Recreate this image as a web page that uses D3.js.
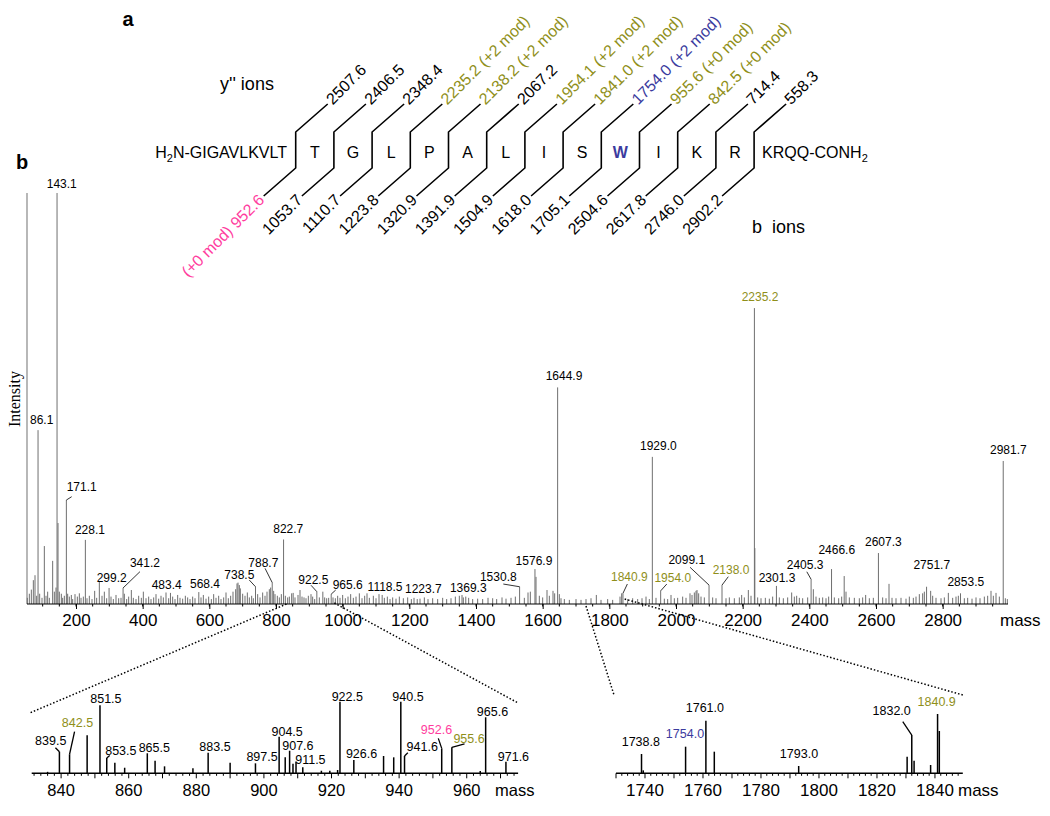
<!DOCTYPE html>
<html><head><meta charset="utf-8">
<script src="https://cdn.jsdelivr.net/npm/d3@7"></script>
<style>body{margin:0;background:#fff;} svg{display:block;font-family:Arial,"Liberation Sans",Helvetica,sans-serif;}</style>
</head><body><svg id="c" width="1050" height="816"></svg>
<script>
// ---------------- DATA ----------------
const residues = ["T","G","L","P","A","L","I","S","W","I","K","R"];
const yIonLabels = ["2507.6","2406.5","2348.4","2235.2 (+2 mod)","2138.2 (+2 mod)","2067.2","1954.1 (+2 mod)","1841.0 (+2 mod)","1754.0 (+2 mod)","955.6 (+0 mod)","842.5 (+0 mod)","714.4","558.3"];
const yIonKind   = ["n","n","n","o","o","n","o","o","b","o","o","n","n"];
const bIonLabels = ["(+0 mod) 952.6","1053.7","1110.7","1223.8","1320.9","1391.9","1504.9","1618.0","1705.1","2504.6","2617.8","2746.0","2902.2"];
const bIonKind   = ["p","n","n","n","n","n","n","n","n","n","n","n","n"];

const mainTicks = [200,400,600,800,1000,1200,1400,1600,1800,2000,2200,2400,2600,2800];
// labelled peaks of the full spectrum [mass, relative intensity %]
const mainLabeled = [[143.1,100],[86.1,42.3],[171.1,25.3],[228.1,15.6],[299.2,3.9],[341.2,3.9],[483.4,2.7],[568.4,2.9],[738.5,4.2],[788.7,5.2],[822.7,15.7],[922.5,3.0],[965.6,2.4],[1118.5,2.2],[1223.7,1.2],[1369.3,1.8],[1530.8,4.2],[1576.9,8.5],[1644.9,52.7],[1840.9,2.6],[1929.0,35.8],[1954.0,3.2],[2099.1,4.6],[2138.0,4.6],[2235.2,72],[2301.3,4.4],[2405.3,6.0],[2466.6,8.5],[2607.3,12.4],[2751.7,4.2],[2853.5,2.6],[2981.7,34.8]];
const mainLabelKind = {"1840.9":"o","1954.0":"o","2138.0":"o","2235.2":"o"};
// unlabelled peaks of the full spectrum [mass, relative intensity %]
const mainOther = [[54,1.5],[60,2.5],[66,3.5],[72,5.8],[77,7],[82,2],[91,2.5],[98,1.5],[105,14.1],[110,2],[115,3],[120,1.5],[130,10.5],[135,3],[140,4],[146,19.7],[150,3],[156,2.5],[160,1.5],[165,2],[175,2.5],[180,1.8],[186,2.2],[190,1.2],[197,2.4],[204,1.8],[210,2.6],[215,1.5],[222,1.8],[233,1.4],[240,2],[248,1.2],[256,3.2],[262,1.5],[270,5.4],[278,2],[285,3],[292,1.4],[305,1.8],[312,1.2],[320,2.2],[328,1.4],[335,1.5],[345,2.5],[352,1.2],[358,1.8],[366,3.4],[372,1.5],[380,1.2],[388,2],[396,1.5],[402,3],[410,1.4],[418,1.8],[425,1.2],[433,1.6],[440,2.4],[448,1.3],[455,2],[462,1.6],[470,2.8],[478,1.4],[490,1.8],[497,1.2],[505,2.2],[512,1.5],[520,1.3],[528,2],[535,1.6],[542,1.2],[550,1.8],[557,1.4],[575,1.6],[582,2.2],[590,1.3],[598,1.8],[606,1.2],[613,2.4],[620,1.5],[628,2],[635,1.2],[643,1.6],[650,2.8],[657,1.4],[664,2],[671,3],[679,3.6],[683,5],[686,5.2],[690,4.6],[693,3.8],[700,2.5],[707,2],[714,2.8],[720,1.6],[727,2],[732,1.4],[745,2.4],[752,1.6],[760,2.8],[767,2],[773,3],[780,3.6],[784,4],[793,3.2],[797,2.4],[804,2],[810,1.6],[816,2.4],[828,2],[835,1.6],[840,1.8],[847,2.6],[851.5,2.7],[857,1.6],[866,2.2],[872,3.4],[878,1.8],[884,1.6],[890,1.4],[897,2],[905,2.4],[910,1.8],[916,1.2],[930,1.6],[940.5,3],[946,1.6],[952,1.4],[958,1.5],[971,1.6],[978,1.4],[985,2],[992,1.5],[1000,2.2],[1008,1.4],[1016,1.8],[1024,2.4],[1032,1.5],[1040,1.8],[1050,2.6],[1058,1.4],[1066,2],[1073,2.6],[1080,1.5],[1092,2],[1100,1.4],[1109,2.4],[1125,1.5],[1134,1.8],[1142,1.2],[1150,1.6],[1160,1.3],[1170,1.8],[1182,1.4],[1195,1.6],[1206,1.2],[1214,1.5],[1232,1.3],[1245,1.6],[1256,1.2],[1270,1.4],[1285,1.2],[1300,1.5],[1312,1.2],[1325,1.4],[1338,1.8],[1350,2],[1358,2.2],[1362,1.6],[1378,1.5],[1390,1.2],[1405,1.3],[1420,1.2],[1436,1.5],[1450,1.4],[1462,1.2],[1478,1.6],[1490,1.3],[1505,1.5],[1518,1.8],[1545,1.5],[1556,2.8],[1563,3],[1580,6.6],[1590,2],[1600,1.6],[1613,3.4],[1620,2],[1631,3.2],[1636,2.6],[1650,2.4],[1655,1.4],[1665,1.2],[1680,1],[1700,1.2],[1715,1],[1730,1.2],[1745,1.4],[1761,2.2],[1775,1],[1795,1.2],[1810,1],[1832,1.8],[1837,2.6],[1855,1.2],[1870,1.4],[1885,1.2],[1898,1.4],[1910,1.8],[1920,1.2],[1940,1.5],[1965,1.3],[1975,1.2],[1985,2.2],[1995,1.4],[2005,1.5],[2020,1.8],[2030,1.5],[2042,2.6],[2048,2.2],[2055,2.8],[2060,3.2],[2063,3.4],[2068,2.6],[2075,1.8],[2085,1.6],[2110,1.6],[2120,1.4],[2150,1.4],[2160,1.6],[2175,1.4],[2190,1.6],[2197,2.2],[2205,1.6],[2217,3.4],[2225,2],[2236.5,13.6],[2245,1.6],[2255,1.4],[2268,1.5],[2280,1.3],[2290,1.8],[2310,1.6],[2322,1.4],[2335,1.6],[2347,2.8],[2355,1.8],[2362,2],[2370,1.5],[2380,1.4],[2395,1.6],[2412,3.6],[2420,1.8],[2430,1.5],[2440,1.6],[2450,1.4],[2458,1.8],[2475,1.6],[2488,1.4],[2497,1.8],[2504.6,6.8],[2510,3],[2520,1.6],[2535,1.5],[2550,1.4],[2560,1.6],[2569,2.2],[2580,1.4],[2592,1.5],[2620,1.6],[2630,1.4],[2639,4.9],[2648,1.5],[2660,1.4],[2675,1.5],[2690,1.3],[2700,1.8],[2712,1.5],[2720,1.8],[2730,2.4],[2740,2.6],[2745,3],[2764,3.2],[2770,2],[2780,1.5],[2795,1.4],[2805,1.6],[2817,2.7],[2830,1.5],[2840,1.8],[2847,2],[2865,1.4],[2875,1.5],[2888,1.3],[2900,1.6],[2912,1.4],[2925,1.8],[2935,2],[2945,3.2],[2952,2],[2960,2.7],[2970,1.8],[2988,1.4],[2994,1.2]];

// inset 1 (m/z 830-975)
const inset1Ticks = [840,860,880,900,920,940,960];
const inset1Peaks = [[836,2],[839.5,29.5],[842.5,26],[847.7,52],[851.5,93],[853.5,21],[855.9,14.5],[858.8,7.6],[865.5,27.3],[867.8,17.2],[870.6,9.5],[879,6.8],[883.5,28],[890,14.5],[897.5,13.6],[904.5,50],[906.3,21.8],[907.6,30.8],[908.6,13],[909.5,16],[911.5,8.2],[917,3.5],[919.5,3.5],[921.8,4.5],[922.5,97.7],[926.6,18],[935.4,23.6],[938.4,21.8],[940.5,97.7],[941.6,23.6],[952.6,34],[955.6,35.5],[964,3],[965.6,76.4],[971.6,15.8]];
const inset1Labels = ["839.5","842.5","851.5","853.5","865.5","883.5","897.5","904.5","907.6","911.5","922.5","926.6","940.5","941.6","952.6","955.6","965.6","971.6"];
const inset1Kind = {"842.5":"o","955.6":"o","952.6":"p"};

// inset 2 (m/z 1730-1850)
const inset2Ticks = [1740,1760,1780,1800,1820,1840];
const inset2Peaks = [[1738.8,26.3],[1739.4,4],[1754.0,36.3],[1761.0,71.8],[1763.9,29.5],[1793.0,10],[1830.4,22.6],[1832.0,52.2],[1832.8,17.2],[1838.5,11.3],[1840.9,80.9],[1841.5,57.7]];
const inset2Labels = ["1738.8","1754.0","1761.0","1793.0","1832.0","1840.9"];
const inset2Kind = {"1754.0":"b","1840.9":"o"};

// ---------------- STYLE / LAYOUT ----------------
const COL = {n:"#000", o:"#8f8f1a", b:"#3b3b9e", p:"#ff3d9e"};
const svg = d3.select("#c");

// panel labels
svg.append("text").attr("x",128).attr("y",26).attr("text-anchor","middle").attr("font-size",20).attr("font-weight","bold").text("a");
svg.append("text").attr("x",22).attr("y",169).attr("text-anchor","middle").attr("font-size",20).attr("font-weight","bold").text("b");

// ---- panel a : fragmentation map ----
const sep = d3.scaleLinear().domain([0,12]).range([295.7,754.1]);
const gA = svg.append("g");
const seqY = 158;
const nterm = gA.append("text").attr("x",287).attr("y",seqY).attr("text-anchor","end").attr("font-size",16);
nterm.append("tspan").text("H");
nterm.append("tspan").attr("font-size",11).attr("dy",4).text("2");
nterm.append("tspan").attr("dy",-4).text("N-GIGAVLKVLT");
const cterm = gA.append("text").attr("x",sep(12)+8).attr("y",seqY).attr("font-size",16);
cterm.append("tspan").text("KRQQ-CONH");
cterm.append("tspan").attr("font-size",11).attr("dy",4).text("2");

gA.selectAll("text.res").data(residues).join("text").attr("class","res")
  .attr("x",(d,i)=>sep(i+0.5)).attr("y",seqY).attr("text-anchor","middle").attr("font-size",16)
  .attr("font-weight",d=>d==="W"?"bold":null).attr("fill",d=>d==="W"?COL.b:"#000").text(d=>d);

const dX=32, dY=28, topY=104, v1=132, v2=168;
gA.selectAll("path.sep").data(d3.range(13)).join("path").attr("class","sep")
  .attr("d",i=>{const s=sep(i);return `M${s+dX},${topY}L${s},${v1}L${s},${v2}L${s-dX},${v2+dY}`;})
  .attr("fill","none").attr("stroke","#000").attr("stroke-width",1.6);
gA.selectAll("text.yion").data(yIonLabels).join("text").attr("class","yion")
  .attr("transform",(d,i)=>`translate(${sep(i)+dX+5},${topY+1.5}) rotate(-45)`)
  .attr("font-size",16).attr("fill",(d,i)=>COL[yIonKind[i]]).text(d=>d);
gA.selectAll("text.bion").data(bIonLabels).join("text").attr("class","bion")
  .attr("transform",(d,i)=>`translate(${sep(i)-dX+1.5},${v2+dY+5}) rotate(-45)`)
  .attr("text-anchor","end").attr("font-size",16).attr("fill",(d,i)=>COL[bIonKind[i]]).text(d=>d);
gA.append("text").attr("x",220).attr("y",90).attr("font-size",18).text("y'' ions");
gA.append("text").attr("x",752).attr("y",233).attr("font-size",18).attr("xml:space","preserve").text("b\u00a0\u00a0ions");

// ---- panel b : main spectrum ----
const xM = d3.scaleLinear().domain([53,2996]).range([27,1008]);
const yM = d3.scaleLinear().domain([0,100]).range([604,193]);
const gB = svg.append("g");
gB.append("line").attr("x1",xM.range()[0]).attr("x2",xM.range()[0]).attr("y1",yM(100)).attr("y2",yM(0)).attr("stroke","#888").attr("stroke-width",1.2);
gB.selectAll("line.pk").data(mainOther.concat(mainLabeled)).join("line").attr("class","pk")
  .attr("x1",d=>xM(d[0])).attr("x2",d=>xM(d[0])).attr("y1",yM(0)).attr("y2",d=>yM(d[1]))
  .attr("stroke","#6f6f6f").attr("stroke-width",1);
// axis
const axM = d3.axisBottom(xM).tickValues(mainTicks).tickSize(5).tickPadding(5).tickFormat(d=>d);
const axG = gB.append("g").attr("transform",`translate(0,${yM(0)})`).call(axM);
axG.select(".domain").attr("stroke","#000").attr("stroke-width",1.2).attr("d",`M${xM.range()[0]},0H${xM.range()[1]}`);
axG.selectAll(".tick text").attr("font-size",17).attr("font-family","Arial,'Liberation Sans',sans-serif");
gB.selectAll("line.mtick").data(d3.range(100,3000,50)).join("line").attr("class","mtick")
  .attr("x1",d=>xM(d)).attr("x2",d=>xM(d)).attr("y1",yM(0)).attr("y2",yM(0)+2.5).attr("stroke","#000");
gB.append("text").attr("x",1000).attr("y",626).attr("font-size",17).text("mass");
gB.append("text").attr("transform","translate(20,399) rotate(-90)").attr("text-anchor","middle")
  .attr("font-family","'Times New Roman','Liberation Serif',serif").attr("font-size",16).text("Intensity");

// label placement (label centre offset from peak top, optional leader end)
const mainLab = {"143.1":[4.7,-9.7],"86.1":[3.6,-10.8],"171.1":[15.3,-13.3,5.3,-3.3],"228.1":[4.6,-9.9],"299.2":[2.6,-10.7],
 "341.2":[21.9,-25.3,16.9,-16.3],"483.4":[-3.8,-8.5],"568.4":[6.2,-8.5],"738.5":[-16.2,-11.7,-6.2,-6.7],"788.7":[-8.9,-19.9,-7.2,-14.3],
 "822.7":[4.7,-11.2],"922.5":[-3.5,-11.7,-5.8,-6.4],"965.6":[16.5,-9.1,4.5,-4.1],"1118.5":[2.9,-8.5],"1223.7":[6.1,-10.8],
 "1369.3":[2.5,-8.5],"1530.8":[-21.3,-10,-16.3,-2.7],"1576.9":[-1,-8],"1644.9":[6.4,-11.4],"1840.9":[6.4,-16.6,4.4,-9.3],
 "1929.0":[6,-10.9],"1954.0":[12.1,-13.5,6.1,-6.8],"2099.1":[-22.3,-25.1,-19,-17.8],"2138.0":[9,-15.1,6.3,-8.4],
 "2235.2":[5.6,-11],"2301.3":[0.6,-8.5],"2405.3":[-6,-14.3,-4.3,-7.6],"2466.6":[5.2,-19.1],"2607.3":[4.9,-11.3],
 "2751.7":[5.2,-21.7],"2853.5":[5.3,-11.6],"2981.7":[5.1,-11.7]};
function drawLabels(g, peaks, names, kinds, lay, xs, ys, fs, lw){
  const lookup = new Map(peaks.map(p=>[p[0].toFixed(1),p]));
  names.forEach(nm=>{
    const p = lookup.get(nm); if(!p) return;
    const x = xs(p[0]), y = ys(p[1]); const o = lay[nm]||[0,-8];
    if(o.length>2){ g.append("line").attr("x1",x).attr("y1",y).attr("x2",x+o[2]).attr("y2",y+o[3]).attr("stroke","#000").attr("stroke-width",lw); }
    g.append("text").attr("x",x+o[0]).attr("y",y+o[1]+fs*0.36).attr("text-anchor","middle").attr("font-size",fs)
      .attr("fill",COL[kinds[nm]||"n"]).text(nm);
  });
}
drawLabels(gB, mainLabeled, mainLabeled.map(d=>d[0].toFixed(1)), mainLabelKind, mainLab, xM, yM, 12, 0.8);

// ---- insets ----
function drawInset(g, xs, ys, peaks, ticks, fs){
  g.selectAll("line.ipk").data(peaks).join("line").attr("class","ipk")
   .attr("x1",d=>xs(d[0])).attr("x2",d=>xs(d[0])).attr("y1",ys(0)).attr("y2",d=>ys(d[1]))
   .attr("stroke","#000").attr("stroke-width",1.5);
  const [d0,d1] = xs.domain();
  g.append("line").attr("x1",xs.range()[0]).attr("x2",xs.range()[1]).attr("y1",ys(0)).attr("y2",ys(0)).attr("stroke","#000").attr("stroke-width",1.6);
  const tk = d3.range(Math.ceil(d0/2)*2, d1, 2);
  g.selectAll("line.itk").data(tk).join("line").attr("class","itk")
   .attr("x1",d=>xs(d)).attr("x2",d=>xs(d)).attr("y1",ys(0)).attr("y2",d=>ys(0)+(d%10===0?5:2.5))
   .attr("stroke","#000").attr("stroke-width",1);
  g.selectAll("text.itl").data(ticks).join("text").attr("class","itl")
   .attr("x",d=>xs(d)).attr("y",796).attr("text-anchor","middle").attr("font-size",fs).text(d=>d);
}
const xI1 = d3.scaleLinear().domain([831.3,975.2]).range([31.7,518.1]);
const yI = d3.scaleLinear().domain([0,100]).range([773.3,700]);
const gI1 = svg.append("g");
drawInset(gI1, xI1, yI, inset1Peaks, inset1Ticks, 16.5);
gI1.append("text").attr("x",495).attr("y",796).attr("font-size",16.5).text("mass");
const lab1 = {"839.5":[-8.7,-11,-4,-4],"842.5":[7.9,-32,5,-22.6],"851.5":[5.9,-7],"853.5":[14.1,-7.3,3,-2.5],"865.5":[7,-6],
 "883.5":[6.8,-6],"897.5":[6.6,-7.3],"904.5":[8,-5.5],"907.6":[8.3,-5.5],"911.5":[7.6,-7.3],"922.5":[7.3,-5.5],"926.6":[7.7,-6.7],
 "940.5":[7.2,-5.5],"941.6":[17.7,-9.3,3.3,-3.3],"952.6":[-5.2,-19,-3.4,-10],"955.6":[17.2,-9,12.7,-3.3],"965.6":[6.8,-5.6],"971.6":[7.5,-5.7]};
drawLabels(gI1, inset1Peaks, inset1Labels, inset1Kind, lab1, xI1, yI, 12.5, 1.3);

const xI2 = d3.scaleLinear().domain([1730,1849.6]).range([616,962.8]);
const gI2 = svg.append("g");
drawInset(gI2, xI2, yI, inset2Peaks, inset2Ticks, 17);
gI2.append("text").attr("x",958).attr("y",796).attr("font-size",17).text("mass");
const lab2 = {"1738.8":[-0.7,-12.3],"1754.0":[-0.6,-13.4],"1761.0":[-1,-13.4],"1793.0":[0.3,-12],"1832.0":[-20.1,-25,-9,-13.3],"1840.9":[-0.9,-12.3]};
drawLabels(gI2, inset2Peaks, inset2Labels, inset2Kind, lab2, xI2, yI, 12.5, 1.3);

// dotted zoom connectors
const conn = [
  [xM(831.5),yM(0),xI1.range()[0]-2,713],
  [xM(975),yM(0)-1,xI1.range()[1],703],
  [xM(1730),yM(0)+2,xI2.range()[0]-2,695],
  [xM(1846),yM(0)-5,xI2.range()[1],695]];
svg.selectAll("line.conn").data(conn).join("line").attr("class","conn")
  .attr("x1",d=>d[0]).attr("y1",d=>d[1]).attr("x2",d=>d[2]).attr("y2",d=>d[3])
  .attr("stroke","#000").attr("stroke-width",1.5).attr("stroke-dasharray","1.5,2");
</script></body></html>
